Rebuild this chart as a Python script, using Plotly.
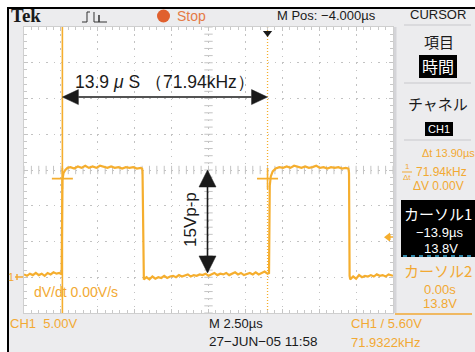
import numpy as np
import plotly.graph_objects as go

# ---------------- data ----------------
time_per_div = 2.5      # µs / div
volts_per_div = 5.0     # V / div
h_position = -4.0       # µs  (M Pos)
ch1_offset_div = 1      # ground marker 1 div above bottom

wave_t = [-16.5, -16.3, -16.1, -15.9, -15.7, -15.5, -15.3, -15.1, -14.9, -14.7, -14.5, -14.3, -14.1, -13.95,
          -13.9, -13.82, -13.7, -13.55,
          -13.35, -13.1, -12.85, -12.6, -12.35, -12.1, -11.85, -11.6, -11.35, -11.1, -10.85, -10.6, -10.35,
          -10.1, -9.85, -9.6, -9.35, -9.1, -8.85, -8.6, -8.5,
          -8.47, -8.43, -8.38,
          -8.2, -8.0, -7.8, -7.6, -7.4, -7.2, -7.0, -6.8, -6.6, -6.4, -6.2, -6.0, -5.8, -5.6, -5.4, -5.2,
          -5.0, -4.8, -4.6, -4.4, -4.2, -4.0, -3.8, -3.6, -3.4, -3.2, -3.0, -2.8, -2.6, -2.4, -2.2, -2.0,
          -1.8, -1.6, -1.4, -1.2, -1.0, -0.8, -0.6, -0.4, -0.2, 0.0, 0.1,
          0.15, 0.22, 0.35, 0.55,
          0.8, 1.05, 1.3, 1.55, 1.8, 2.05, 2.3, 2.55, 2.8, 3.05, 3.3, 3.55, 3.8, 4.05, 4.3, 4.55, 4.8,
          5.05, 5.3, 5.48,
          5.52, 5.56, 5.6,
          5.8, 6.0, 6.2, 6.4, 6.6, 6.8, 7.0, 7.2, 7.4, 7.6, 7.8, 8.0, 8.2, 8.5]
wave_v = [0.4, 0.2, 0.5, 0.3, 0.6, 0.3, 0.5, 0.2, 0.6, 0.4, 0.7, 0.5, 0.6, 0.4,
          13.6, 14.6, 15.0, 15.3,
          15.4, 15.2, 15.5, 15.3, 15.6, 15.3, 15.5, 15.3, 15.6, 15.4, 15.3, 15.5, 15.3,
          15.4, 15.2, 15.4, 15.3, 15.4, 15.2, 15.3, 15.2,
          14.8, 0.3, -0.3,
          0.0, -0.3, 0.1, -0.2, 0.0, -0.1, 0.2, -0.1, 0.1, 0.2, 0.0, 0.3, 0.1, 0.2, 0.4, 0.1,
          0.3, 0.2, 0.4, 0.3, 0.5, 0.2, 0.4, 0.6, 0.3, 0.5, 0.4, 0.6, 0.3, 0.5, 0.7, 0.4,
          0.6, 0.3, 0.5, 0.6, 0.4, 0.7, 0.4, 0.6, 0.8, 0.5, 0.6,
          12.8, 14.1, 14.8, 15.2,
          15.4, 15.3, 15.5, 15.3, 15.6, 15.4, 15.3, 15.5, 15.3, 15.4, 15.6, 15.3, 15.4, 15.2, 15.4, 15.3, 15.4,
          15.2, 15.3, 15.2,
          14.6, 0.2, -0.3,
          0.1, -0.2, 0.3, 0.0, 0.2, 0.1, 0.3, 0.1, 0.4, 0.2, 0.3, 0.1, 0.4, 0.2]

cursor_t = [-13.9, 0.0]     # µs
cursor_v = 13.8             # V
trigger_t = 0.0
trigger_level = 5.6         # V
vpp_arrow = [0.6, 15.0]     # V
period_arrow_v = 25.2       # V

# ---------------- geometry ----------------
W, H = 475, 352
L, R, T, B = 24, 393, 27, 313
t_range = [h_position - 5 * time_per_div, h_position + 5 * time_per_div]
v_range = [-ch1_offset_div * volts_per_div, (8 - ch1_offset_div) * volts_per_div]
TPP = (t_range[1] - t_range[0]) / (R - L)   # µs per px
VPP = (v_range[1] - v_range[0]) / (B - T)   # V per px

ORANGE = "#F2A933"
TRACE = "#F5AE2E"
BLACK = "#1a1a1a"
GRAY_BG = "#ECECEE"
SANS = "Liberation Sans, Arial, sans-serif"
CJK = "Noto Sans CJK JP, sans-serif"


def xp(px):
    return (px - L) / (R - L)


def yp(py):
    return (B - py) / (B - T)


def txt(text, x, y, size=13, color=BLACK, xanchor="left", family=SANS, **kw):
    return dict(text=text, x=xp(x), y=yp(y), xref="paper", yref="paper",
                xanchor=xanchor, yanchor="middle", showarrow=False,
                font=dict(size=size, color=color, family=family), **kw)


def prect(x0, y0, x1, y1, fill, line=None, layer="below", lw=0):
    return dict(type="rect", xref="paper", yref="paper", x0=xp(x0), x1=xp(x1),
                y0=yp(y0), y1=yp(y1), fillcolor=fill, layer=layer,
                line=dict(width=lw, color=line or fill))


def pline(x0, y0, x1, y1, color, w=1, dash=None, layer="above"):
    return dict(type="line", xref="paper", yref="paper", x0=xp(x0), x1=xp(x1),
                y0=yp(y0), y1=yp(y1), layer=layer,
                line=dict(color=color, width=w, dash=dash))


def ppath(pts, fill=None, color=BLACK, w=1):
    d = "M " + " L ".join(f"{xp(a):.5f},{yp(b):.5f}" for a, b in pts)
    if fill:
        d += " Z"
    return dict(type="path", xref="paper", yref="paper", path=d, layer="above",
                fillcolor=fill or "rgba(0,0,0,0)", line=dict(color=color, width=w))


def dpath(pts, fill=BLACK):
    d = "M " + " L ".join(f"{a:.5f},{b:.5f}" for a, b in pts) + " Z"
    return dict(type="path", xref="x", yref="y", path=d, layer="above",
                fillcolor=fill, line=dict(color=fill, width=0.5))


fig = go.Figure()

# graticule centre ticks
tick_t = np.arange(t_range[0], t_range[1] + 1e-9, time_per_div / 5)
tick_v = np.arange(v_range[0], v_range[1] + 1e-9, volts_per_div / 5)
centre_v = (v_range[0] + v_range[1]) / 2
fig.add_trace(go.Scatter(x=tick_t, y=[centre_v] * len(tick_t), mode="markers",
                         marker=dict(symbol="line-ns", size=6, line=dict(width=1, color="#c4c4c4")),
                         hoverinfo="skip", showlegend=False))
fig.add_trace(go.Scatter(x=[h_position] * len(tick_v), y=tick_v, mode="markers",
                         marker=dict(symbol="line-ew", size=6, line=dict(width=1, color="#c4c4c4")),
                         hoverinfo="skip", showlegend=False))

# waveform
fig.add_trace(go.Scatter(x=wave_t, y=wave_v, mode="lines", line=dict(color=TRACE, width=2.2),
                         hoverinfo="skip", showlegend=False))

# cursors
fig.add_trace(go.Scatter(x=[cursor_t[0]] * 2, y=v_range, mode="lines",
                         line=dict(color=TRACE, width=1.6), hoverinfo="skip", showlegend=False))
fig.add_trace(go.Scatter(x=[cursor_t[1]] * 2, y=v_range, mode="lines",
                         line=dict(color=TRACE, width=1.3, dash="1px,2px"), hoverinfo="skip", showlegend=False))
fig.add_trace(go.Scatter(x=cursor_t, y=[cursor_v] * 2, mode="markers",
                         marker=dict(symbol="cross-thin", size=15, line=dict(width=1.6, color=TRACE)),
                         hoverinfo="skip", showlegend=False))

# trigger markers
fig.add_trace(go.Scatter(x=[trigger_t], y=[v_range[1] - 6 * VPP], mode="markers",
                         marker=dict(symbol="triangle-down", size=8, color=BLACK),
                         hoverinfo="skip", showlegend=False, cliponaxis=False))
fig.add_trace(go.Scatter(x=[t_range[1] - 5 * TPP], y=[trigger_level], mode="markers",
                         marker=dict(symbol="triangle-left", size=8, color=TRACE),
                         hoverinfo="skip", showlegend=False, cliponaxis=False))

shapes = []
# backgrounds
shapes.append(prect(8, 8, W + 2, H + 2, GRAY_BG))
shapes.append(prect(L, T, R, B, "white"))
shapes.append(pline(R + 2, T, R + 2, B, "#d4d4d8", 3, layer="below"))
shapes.append(pline(7, 8, W + 2, 8, "black", 2))
shapes.append(pline(8, 7, 8, H + 2, "black", 2))
# panel separators
for yy in (25, 83, 140):
    shapes.append(pline(404, yy, 471, yy, "#c8c8cc", 1))
shapes.append(pline(395, 314, 472, 314, ORANGE, 1.5))
# panel boxes
shapes.append(prect(419, 55, 457, 78, "black", layer="above"))
shapes.append(prect(425, 122, 453, 136, "black", layer="above"))
shapes.append(prect(401, 200, W + 2, 257, "black", layer="above"))
shapes.append(pline(403, 256, 475, 256, "#3fb2e0", 1.5, dash="4px,4px"))
# fraction bar
shapes.append(pline(402, 172, 412, 172, ORANGE, 1))
# Stop symbol
shapes.append(dict(type="circle", xref="paper", yref="paper", x0=xp(157), x1=xp(170),
                   y0=yp(22.5), y1=yp(9.5), fillcolor="#E0602E", line=dict(width=0), layer="above"))
# trigger icon
shapes.append(ppath([(82, 22), (87, 22), (87, 12), (90, 12)], color="#333", w=1))
shapes.append(ppath([(94, 12), (94, 22), (99, 22), (99, 15), (99, 22), (107, 22)], color="#333", w=1))
# channel ground marker
shapes.append(pline(15, 277, 23, 277, ORANGE, 1.5))
shapes.append(pline(17, 274, 17, 280, ORANGE, 1.5))
# trigger level marker stem
shapes.append(pline(388, 237, 393, 237, TRACE, 1.5))
shapes.append(pline(390, 234, 390, 240, TRACE, 1.2))

# black measurement arrows (data coords)
hl = 16  # px head length
hw = 7.5  # px head half width
t0, t1 = cursor_t
shapes.append(dict(type="line", xref="x", yref="y", x0=t0 + hl * TPP, x1=t1 - hl * TPP,
                   y0=period_arrow_v, y1=period_arrow_v, line=dict(color=BLACK, width=1.6), layer="above"))
shapes.append(dpath([(t0, period_arrow_v), (t0 + hl * TPP, period_arrow_v + hw * VPP),
                     (t0 + hl * TPP, period_arrow_v - hw * VPP)]))
shapes.append(dpath([(t1, period_arrow_v), (t1 - hl * TPP, period_arrow_v + hw * VPP),
                     (t1 - hl * TPP, period_arrow_v - hw * VPP)]))
va, vb = vpp_arrow
xa = h_position - 1 * TPP
hl2, hw2 = 17, 8.5
shapes.append(dict(type="line", xref="x", yref="y", x0=xa, x1=xa, y0=va + hl2 * VPP, y1=vb - hl2 * VPP,
                   line=dict(color=BLACK, width=1.6), layer="above"))
shapes.append(dpath([(xa, vb), (xa - hw2 * TPP, vb - hl2 * VPP), (xa + hw2 * TPP, vb - hl2 * VPP)]))
shapes.append(dpath([(xa, va), (xa - hw2 * TPP, va + hl2 * VPP), (xa + hw2 * TPP, va + hl2 * VPP)]))

ann = []
ann.append(txt("<b>Tek</b>", 9, 16, 19, BLACK, family="Liberation Serif, serif"))
ann.append(txt("Stop", 175, 16, 14, "#E57A45"))
ann.append(txt(f"M Pos: {h_position:.3f}µs".replace("-", "−"), 275, 15, 13))
ann.append(txt("CURSOR", 438, 14, 13, xanchor="center"))
ann.append(txt("項目", 439, 41, 15, family=CJK, xanchor="center"))
ann.append(txt("時間", 438, 66, 16, "white", family=CJK, xanchor="center"))
ann.append(txt("チャネル", 438, 103, 15, family=CJK, xanchor="center"))
ann.append(txt("CH1", 439, 129, 11, "white", xanchor="center"))
ann.append(txt("Δt 13.90µs", 420, 153, 11, ORANGE))
ann.append(txt("1", 407, 166, 8, ORANGE, xanchor="center"))
ann.append(txt("Δt", 407, 177, 8, ORANGE, xanchor="center"))
ann.append(txt("71.94kHz", 414, 172, 12, ORANGE))
ann.append(txt("ΔV 0.00V", 438, 186, 12, ORANGE, xanchor="center"))
ann.append(txt("カーソル1", 438, 213, 15, "white", family=CJK, xanchor="center"))
ann.append(txt("−13.9µs", 440, 232, 13, "white", xanchor="center"))
ann.append(txt("13.8V", 441, 248, 13, "white", xanchor="center"))
ann.append(txt("カーソル2", 438, 270, 15, ORANGE, family=CJK, xanchor="center"))
ann.append(txt("0.00s", 440, 289, 13, ORANGE, xanchor="center"))
ann.append(txt("13.8V", 440, 303, 13, ORANGE, xanchor="center"))
ann.append(txt(f"CH1  {volts_per_div:.2f}V", 8, 323, 13, ORANGE))
ann.append(txt(f"M {time_per_div:.2f}µs", 207, 323, 13))
ann.append(txt("27−JUN−05 11:58", 207, 341, 13.5))
ann.append(txt(f"CH1 / {trigger_level:.2f}V", 349, 323, 13, ORANGE))
ann.append(txt("71.9322kHz", 349, 342, 13, ORANGE))
ann.append(txt("dV/dt 0.00V/s", 32, 292, 14, ORANGE))
ann.append(txt("1", 11, 277, 11, ORANGE, xanchor="center"))
ann.append(txt("13.9 <i>μ</i> S （71.94kHz）", 73, 82, 17.5, BLACK))
ann.append(txt("15Vp-p", 190, 220, 17, BLACK, xanchor="center", textangle=-90))

axis_common = dict(showticklabels=False, zeroline=False, showline=True, linecolor="#cfcfcf",
                   linewidth=1, mirror="ticks", ticks="inside", tickcolor="#c4c4c4", ticklen=4,
                   showgrid=True, gridcolor="#c2c2c2", gridwidth=1, fixedrange=True)
fig.update_layout(
    width=W, height=H, margin=dict(l=L, r=W - R, t=T, b=H - B, pad=0),
    paper_bgcolor="white", plot_bgcolor="rgba(0,0,0,0)", showlegend=False,
    xaxis=dict(range=t_range, dtick=time_per_div, tick0=t_range[0], griddash="1.5px,5.65px",
               minor=dict(dtick=time_per_div / 5, tick0=t_range[0], ticks="inside", ticklen=3,
                          tickcolor="#c8c8c8", showgrid=False), **axis_common),
    yaxis=dict(range=v_range, dtick=volts_per_div, tick0=v_range[0], griddash="1.5px,5.88px",
               minor=dict(dtick=volts_per_div / 5, tick0=v_range[0], ticks="inside", ticklen=3,
                          tickcolor="#c8c8c8", showgrid=False), **axis_common),
    shapes=shapes, annotations=ann,
)

fig.write_html(
    "out.html",
    config={"displayModeBar": False, "staticPlot": True},
    post_script="document.body.style.margin='0';document.body.style.overflow='hidden';"
                "document.documentElement.style.overflow='hidden';",
)
